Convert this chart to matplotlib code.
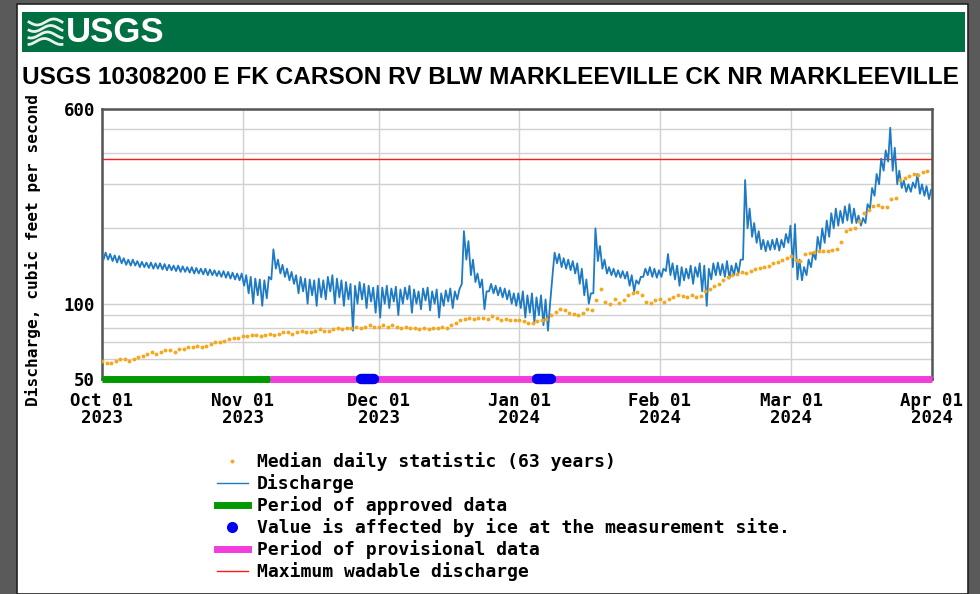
import numpy as np
import matplotlib as mpl
mpl.use("Agg")
import matplotlib.pyplot as plt
import pandas as pd
from matplotlib.lines import Line2D
from matplotlib.patches import Rectangle

# ------------------------------------------------------------------
# data (Oct 01 2023 .. Mar 31 2024)
# ------------------------------------------------------------------
start_date = "2023-10-01"

# daily median statistic, cfs
median_oct = [59, 58, 58, 59, 60, 60, 59, 60, 61, 62, 63, 64, 63, 64, 65, 65,
              64, 66, 66, 67, 67, 68, 67, 68, 69, 70, 70, 71, 72, 73, 73]
median_nov = [74, 74, 75, 75, 74, 75, 76, 75, 76, 77, 77, 76, 77, 78, 77, 77,
              78, 79, 78, 78, 79, 80, 79, 80, 80, 81, 80, 81, 82, 81]
median_dec = [81, 82, 81, 82, 81, 80, 81, 80, 80, 79, 80, 79, 80, 80, 81, 80,
              82, 84, 86, 87, 88, 87, 88, 88, 87, 89, 88, 86, 87, 86, 86]
median_jan = [86, 85, 84, 84, 85, 86, 87, 90, 93, 95, 94, 92, 91, 90, 92, 95,
              94, 103, 114, 102, 100, 104, 101, 103, 108, 110, 111, 108, 102, 101, 103]
median_feb = [104, 102, 104, 106, 108, 107, 106, 108, 106, 107, 112, 114, 118, 120,
              124, 128, 130, 132, 134, 133, 135, 137, 139, 140, 142, 145, 147, 150, 152]
median_mar = [155, 150, 148, 158, 160, 161, 162, 162, 163, 164, 166, 176, 195, 198,
              200, 215, 230, 236, 245, 247, 244, 243, 262, 265, 312, 318, 325, 330,
              328, 335, 340]

# discharge, daily high / daily low, cfs
high_oct = [160, 158, 156, 155, 152, 150, 150, 148, 147, 146, 146, 145, 145, 144, 143, 142,
            142, 141, 140, 140, 139, 138, 138, 137, 136, 135, 135, 134, 133, 132, 132]
low_oct = [150, 150, 148, 146, 145, 143, 142, 142, 140, 140, 139, 138, 138, 137, 136, 136,
           135, 134, 134, 133, 132, 132, 131, 130, 130, 129, 128, 127, 126, 125, 124]
high_nov = [130, 128, 126, 125, 124, 128, 165, 150, 143, 138, 134, 130, 128, 126, 125, 124,
            126, 124, 128, 130, 126, 124, 122, 120, 118, 122, 120, 118, 116, 118]
low_nov = [118, 110, 100, 108, 98, 105, 125, 138, 132, 128, 124, 120, 110, 112, 100, 108,
           98, 106, 104, 112, 100, 106, 98, 104, 78, 100, 104, 96, 102, 92]
high_dec = [116, 118, 115, 117, 114, 116, 118, 114, 112, 115, 116, 112, 114, 110, 113, 115,
            112, 114, 195, 178, 150, 132, 125, 112, 120, 118, 116, 115, 113, 110, 110]
low_dec = [88, 100, 96, 102, 90, 100, 104, 92, 100, 95, 103, 94, 100, 88, 98, 102,
           96, 104, 120, 150, 130, 122, 116, 95, 112, 110, 108, 106, 104, 100, 98]
high_jan = [112, 108, 110, 106, 108, 104, 100, 160, 158, 152, 150, 148, 145, 138, 125, 110,
            200, 170, 150, 140, 138, 136, 135, 134, 130, 124, 128, 138, 140, 138, 136]
low_jan = [96, 88, 92, 84, 90, 82, 78, 130, 145, 140, 138, 136, 132, 120, 108, 100,
           110, 148, 138, 132, 130, 128, 127, 126, 118, 112, 120, 128, 130, 128, 127]
high_feb = [138, 158, 145, 142, 140, 138, 142, 140, 145, 142, 138, 145, 146, 144, 148, 142,
            145, 150, 312, 240, 210, 195, 180, 178, 180, 182, 180, 190, 205]
low_feb = [128, 135, 130, 125, 118, 124, 126, 120, 128, 112, 98, 125, 130, 130, 128, 126,
           130, 132, 150, 200, 185, 175, 165, 162, 164, 165, 163, 168, 175]
high_mar = [208, 150, 140, 150, 160, 185, 200, 215, 230, 240, 235, 245, 250, 240, 225, 220,
            250, 290, 330, 380, 410, 505, 420, 340, 310, 300, 305, 330, 300, 295, 285]
low_mar = [140, 125, 124, 130, 140, 150, 165, 175, 185, 200, 205, 210, 215, 210, 210, 205,
           210, 240, 270, 300, 340, 370, 340, 300, 290, 280, 280, 290, 275, 270, 262]

max_wadable = 380
approved_end = "2023-11-07"
ice_nov = ["2023-11-27", "2023-11-30"]
ice_jan = ["2024-01-05", "2024-01-08"]

median = median_oct + median_nov + median_dec + median_jan + median_feb + median_mar
high = high_oct + high_nov + high_dec + high_jan + high_feb + high_mar
low = low_oct + low_nov + low_dec + low_jan + low_feb + low_mar

days = pd.date_range(start_date, periods=len(median), freq="D")
# discharge line: low in the morning, high in the evening
t_q = np.empty(2 * len(days), dtype="datetime64[ns]")
t_q[0::2] = (days + pd.Timedelta(hours=8)).values
t_q[1::2] = (days + pd.Timedelta(hours=19)).values
q = np.empty(2 * len(days))
q[0::2] = low
q[1::2] = high

x0 = pd.Timestamp("2023-10-01")
x1 = pd.Timestamp("2024-04-01")

# ------------------------------------------------------------------
# figure
# ------------------------------------------------------------------
mono = ["DejaVu Sans Mono"]
fig = plt.figure(figsize=(9.8, 5.94), dpi=100)
fig.patch.set_facecolor("#5a5a5a")

# white page + header
fig.add_artist(Rectangle((17 / 980, 0), (968 - 17) / 980, 1 - 4 / 594,
                         transform=fig.transFigure, facecolor="white",
                         edgecolor="#222222", lw=1.2, zorder=0))
fig.add_artist(Rectangle((22 / 980, 1 - 52 / 594), (965 - 22) / 980, 40 / 594,
                         transform=fig.transFigure, facecolor="#006f41",
                         edgecolor="none", zorder=1))
# logo waves
s = np.linspace(0, 1, 40)
for k in range(4):
    xs = (29 + 33 * s) / 980
    ys = 1 - (22 + 6.5 * k + 3 * np.sin(2 * np.pi * s + k * 0.6)) / 594
    fig.add_artist(Line2D(xs, ys, transform=fig.transFigure, color="#e8f2ec",
                          lw=2.0, zorder=2))
fig.text(66 / 980, 1 - 32 / 594, "USGS", color="white", fontsize=25,
         fontweight="bold", family=["Liberation Sans", "DejaVu Sans"],
         va="center", ha="left", zorder=3)

fig.text(22 / 980, 1 - 78 / 594,
         "USGS 10308200 E FK CARSON RV BLW MARKLEEVILLE CK NR MARKLEEVILLE",
         fontsize=17.6, fontweight="bold", family=["Liberation Sans", "DejaVu Sans"],
         va="center", ha="left")

ax = fig.add_axes([102 / 980, 1 - 379 / 594, 830 / 980, 270 / 594])
ax.set_yscale("log")
ax.set_ylim(50, 600)
ax.set_xlim(x0, x1)

ax.plot(t_q, q, color="#1f7ac4", lw=1.3, zorder=3)
ax.plot(days, median, ls="none", marker="o", ms=2.8, mec="none",
        color="#f5a81c", zorder=4)
ax.axhline(max_wadable, color="#ff1a1a", lw=1.0, zorder=2)

# approval bars along the bottom
ax.plot([x0, pd.Timestamp(approved_end)], [50, 50], color="#009a00", lw=5,
        solid_capstyle="butt", clip_on=False, zorder=5)
ax.plot([pd.Timestamp(approved_end), x1], [50, 50], color="#f03ddc", lw=5,
        solid_capstyle="butt", clip_on=False, zorder=5)
for grp in (ice_nov, ice_jan):
    ax.plot(pd.to_datetime(grp), [50, 50], color="#0000ee", lw=7.5,
            solid_capstyle="round", clip_on=False, zorder=6)

# axes styling
for sp in ax.spines.values():
    sp.set_color("#555555")
    sp.set_linewidth(1.8)
ax.set_yticks([50, 100, 600])
ax.set_yticks([60, 70, 80, 90, 200, 300, 400, 500], minor=True)
ax.yaxis.set_minor_formatter(mpl.ticker.NullFormatter())
ax.set_yticklabels(["50", "100", "600"], family=mono, fontweight="bold", fontsize=12.5)

months = pd.date_range(x0, x1, freq="MS")
ax.set_xticks(months)
ax.set_xticklabels([m.strftime("%b %d\n%Y") for m in months], family=mono,
                   fontweight="bold", fontsize=12.5, linespacing=0.95)
ax.tick_params(which="both", length=0)
ax.tick_params(axis="x", pad=9)
ax.tick_params(axis="y", pad=5)
ax.grid(which="both", color="#d0d0d0", lw=1.0, zorder=0)
ax.set_axisbelow(True)

fig.text(33 / 980, 1 - 250 / 594, "Discharge, cubic feet per second",
         rotation=90, family=mono, fontweight="bold", fontsize=11.6,
         va="center", ha="center")

# legend
handles = [
    Line2D([], [], ls="none", marker="o", ms=2.8, mec="none", color="#f5a81c"),
    Line2D([], [], color="#1f7ac4", lw=1.0),
    Line2D([], [], color="#009a00", lw=5),
    Line2D([], [], ls="none", marker="o", ms=8, mec="none", color="#0000ee"),
    Line2D([], [], color="#f03ddc", lw=5),
    Line2D([], [], color="#ff1a1a", lw=1.0),
]
labels = [
    "Median daily statistic (63 years)",
    "Discharge",
    "Period of approved data",
    "Value is affected by ice at the measurement site.",
    "Period of provisional data",
    "Maximum wadable discharge",
]
fig.legend(handles, labels, loc="upper left",
           bbox_to_anchor=(208 / 980, 1 - 443 / 594),
           frameon=False, handlelength=1.7, handletextpad=0.5,
           labelspacing=0.17, borderpad=0,
           prop={"family": mono, "weight": "bold", "size": 13})

fig.savefig("out.png", dpi=100, facecolor=fig.get_facecolor())
